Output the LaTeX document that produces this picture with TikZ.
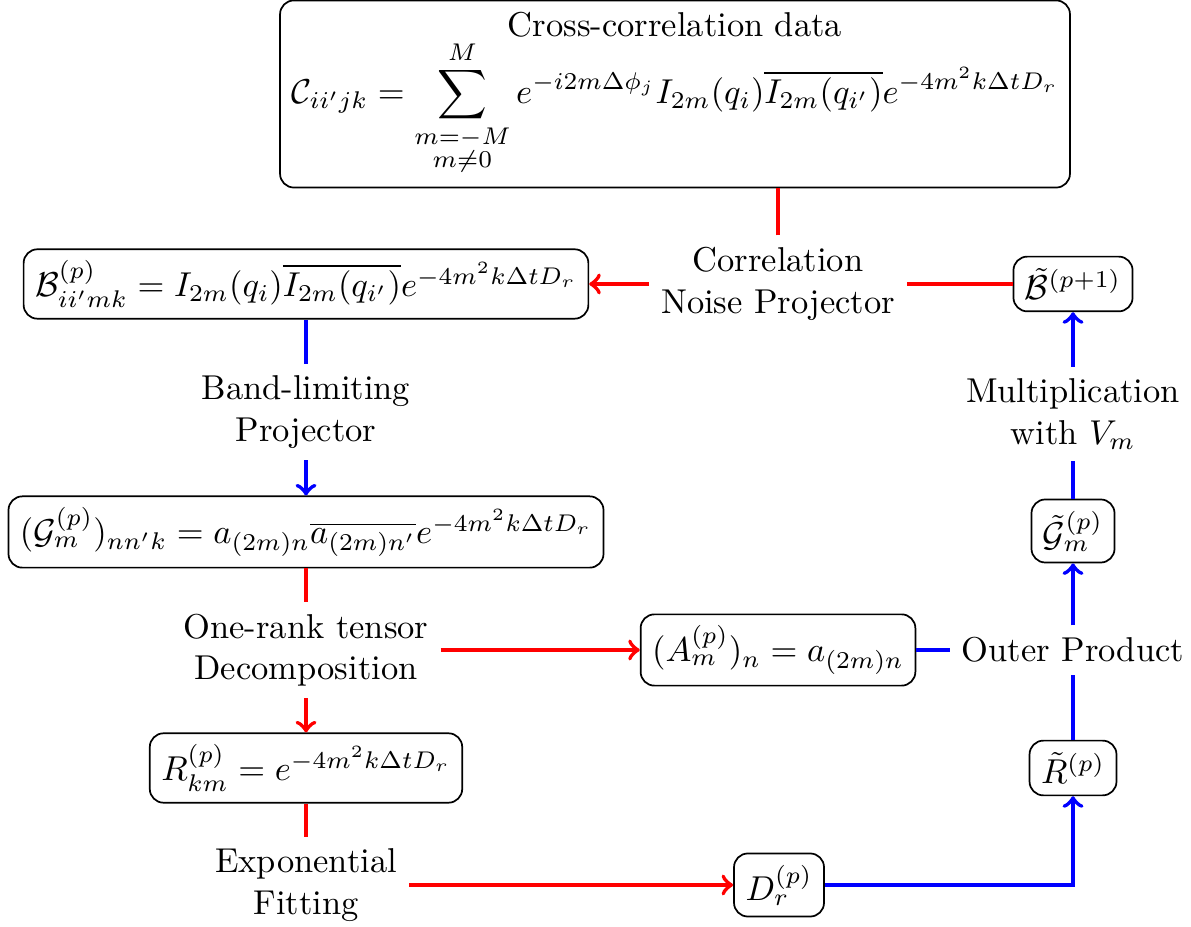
\documentclass[tikz,border=0pt]{standalone}
\usepackage{amsmath,amssymb}
\begin{document}
\begin{tikzpicture}[x=0.2899pt,y=-0.2899pt,
 box/.style={draw,rounded corners,line width=0.5pt,inner sep=3.33pt},
 lbl/.style={align=center,inner sep=3.33pt},
 redl/.style={red,line width=1.2pt},
 bluel/.style={blue,line width=1.2pt},
]
\useasboundingbox (0,0) rectangle (1191,927);
\node[box,align=center] (top) at (675,94) {Cross-correlation data\\ $\displaystyle \mathcal{C}_{ii'jk} = \sum_{\substack{m=-M\\ m\neq 0}}^{M} e^{-i2m\Delta\phi_j} I_{2m}(q_i)\overline{I_{2m}(q_{i'})}e^{-4m^2k\Delta t D_r}$};
\node[lbl] (corr) at (778,284) {Correlation\\Noise Projector};
\node[box] (B) at (306,284) {$\mathcal{B}^{(p)}_{ii'mk} = I_{2m}(q_i)\overline{I_{2m}(q_{i'})}e^{-4m^2k\Delta t D_r}$};
\node[box] (Bt) at (1073,284) {$\tilde{\mathcal{B}}^{(p+1)}$};
\node[lbl] (band) at (306,412) {Band-limiting\\Projector};
\node[box] (G) at (306,532) {$(\mathcal{G}^{(p)}_m)_{nn'k} = a_{(2m)n}\overline{a_{(2m)n'}}e^{-4m^2k\Delta t D_r}$};
\node[lbl] (mult) at (1073,414) {Multiplication\\with $V_m$};
\node[box] (Gt) at (1073,531) {$\tilde{\mathcal{G}}^{(p)}_m$};
\node[lbl] (one) at (306,650) {One-rank tensor\\Decomposition};
\node[box] (A) at (778,650) {$(A^{(p)}_m)_n = a_{(2m)n}$};
\node[lbl] (outer) at (1073,650) {Outer Product};
\node[box] (R) at (306,768) {$R^{(p)}_{km} = e^{-4m^2k\Delta t D_r}$};
\node[box] (Rt) at (1073,768) {$\tilde{R}^{(p)}$};
\node[lbl] (exp) at (306,885) {Exponential\\Fitting};
\node[box] (D) at (779,885) {$D^{(p)}_r$};

\draw[redl] (corr) -- (corr |- top.south);
\draw[redl,->] (corr) -- (B);
\draw[redl] (Bt) -- (corr);
\draw[bluel] (B) -- (band);
\draw[bluel,->] (band) -- (G);
\draw[redl] (G) -- (one);
\draw[redl,->] (one) -- (A);
\draw[redl,->] (one) -- (R);
\draw[redl] (R) -- (exp);
\draw[redl,->] (exp) -- (D);
\draw[bluel,->] (D) -| (Rt);
\draw[bluel] (Rt) -- (outer);
\draw[bluel] (A) -- (outer);
\draw[bluel,->] (outer) -- (Gt);
\draw[bluel] (Gt) -- (mult);
\draw[bluel,->] (mult) -- (Bt);
\end{tikzpicture}
\end{document}
